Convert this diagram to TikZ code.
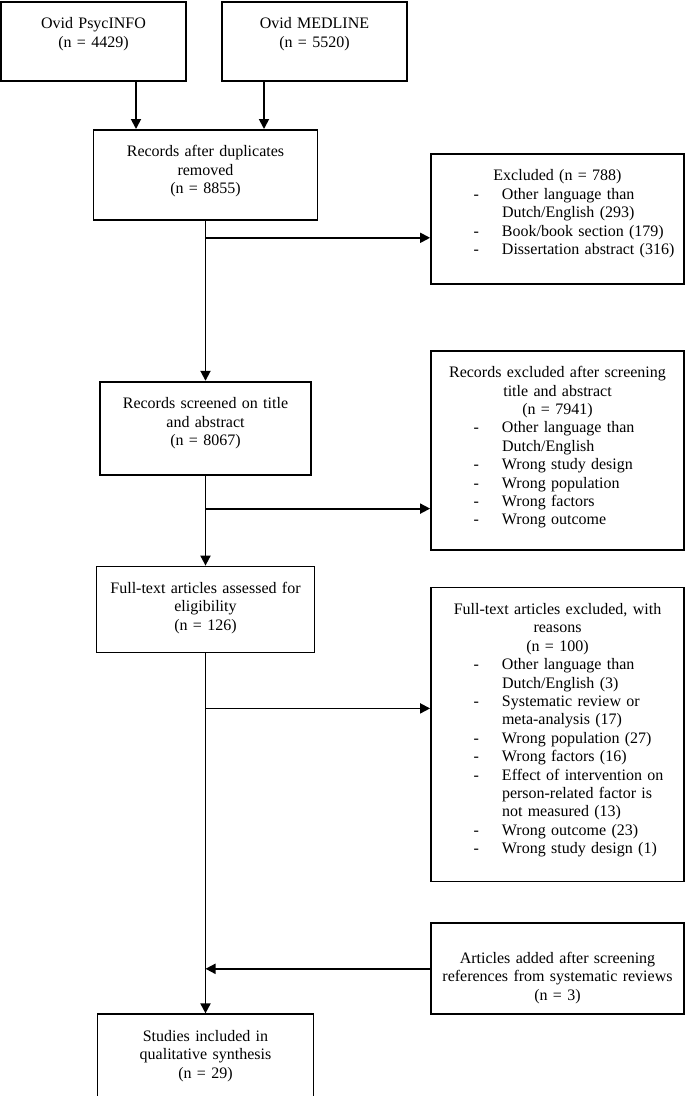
\documentclass[tikz,border=0pt]{standalone}
\usepackage{fontspec}
\setmainfont{Liberation Serif}
\usetikzlibrary{arrows.meta,positioning}
\tikzset{
  box/.style={draw, line width=1.8pt, anchor=north, inner xsep=4pt, inner ysep=16pt,
    text height=11pt, align=center, font=\fontsize{16}{18.4}\selectfont},
  arrow/.style={-{Triangle[length=10pt, width=10pt]}, line width=1.8pt}
}
\newcommand{\itm}[1]{\makebox[168pt][l]{\makebox[28.5pt][l]{-}#1}}
\newcommand{\cnt}[1]{\makebox[168pt][l]{\hspace{28.5pt}#1}}

\begin{document}
\begin{tikzpicture}[x=1pt, y=-1pt]
\useasboundingbox (0,0) rectangle (685,1096);
\node[box, text width=177pt, text depth=36pt] (psyc) at (93.5,1) {Ovid PsycINFO\\(n = 4429)};
\node[box, text width=177pt, text depth=36pt] (medline) at (314.5,1) {Ovid MEDLINE\\(n = 5520)};
\node[box, text width=216pt, text depth=47pt] (dups) at (205.5,129) {Records after duplicates\\removed\\(n = 8855)};
\node[box, text width=203pt, text depth=50pt, below=160pt of dups] (screened) {Records screened on title\\and abstract\\(n = 8067)};
\node[box, text width=210pt, text depth=43pt, below=90pt of screened] (fulltext) {Full-text articles assessed for\\eligibility\\(n = 126)};
\node[box, text width=208pt, text depth=42pt, below=360pt of fulltext] (studies) {Studies included in\\qualitative synthesis\\(n = 29)};

\node[box, text width=245pt, text depth=87pt] (excl) at (557.5,153) {Excluded (n = 788)\\
  \itm{Other language than}\\\cnt{Dutch/English (293)}\\
  \itm{Book/book section (179)}\\\itm{Dissertation abstract (316)}};
\node[box, text width=245pt, text depth=156pt, below=65pt of excl] (recexcl) {Records excluded after screening\\title and abstract\\(n = 7941)\\
  \itm{Other language than}\\\cnt{Dutch/English}\\\itm{Wrong study design}\\
  \itm{Wrong population}\\\itm{Wrong factors}\\\itm{Wrong outcome}};
\node[box, text width=245pt, text depth=251pt, below=36pt of recexcl] (ftexcl) {Full-text articles excluded, with\\reasons\\(n = 100)\\
  \itm{Other language than}\\\cnt{Dutch/English (3)}\\
  \itm{Systematic review or}\\\cnt{meta-analysis (17)}\\
  \itm{Wrong population (27)}\\\itm{Wrong factors (16)}\\
  \itm{Effect of intervention on}\\\cnt{person-related factor is}\\\cnt{not measured (13)}\\
  \itm{Wrong outcome (23)}\\\itm{Wrong study design (1)}};
\node[box, text width=245pt, text height=24pt, text depth=35pt, below=40pt of ftexcl] (added) {Articles added after screening\\references from systematic reviews\\(n = 3)};

\coordinate[below=17pt of dups] (b1);
\coordinate[below=33pt of screened] (b2);
\coordinate[below=55pt of fulltext] (b3);

\draw[arrow] ([xshift=42.5pt]psyc.south) -- ([xshift=42.5pt]psyc.south |- dups.north);
\draw[arrow] ([xshift=-50.5pt]medline.south) -- ([xshift=-50.5pt]medline.south |- dups.north);
\draw[arrow] (dups) -- (screened);
\draw[arrow] (screened) -- (fulltext);
\draw[arrow] (fulltext) -- (studies);
\draw[arrow] (b1) -- (b1 -| excl.west);
\draw[arrow] (b2) -- (b2 -| recexcl.west);
\draw[arrow] (b3) -- (b3 -| ftexcl.west);
\draw[arrow] (added.west) -- (added.west -| studies.north);
\end{tikzpicture}
\end{document}
